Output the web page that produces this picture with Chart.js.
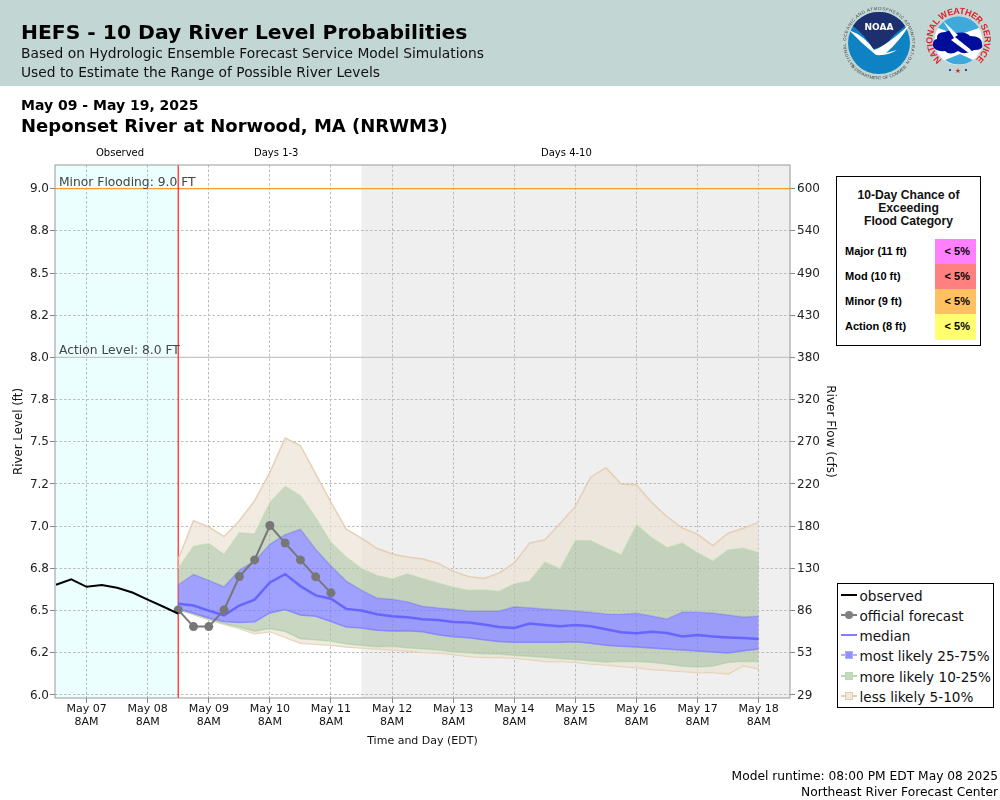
<!DOCTYPE html>
<html>
<head>
<meta charset="utf-8">
<title>HEFS - 10 Day River Level Probabilities</title>
<script src="https://cdn.jsdelivr.net/npm/chart.js@4/dist/chart.umd.min.js"></script>
<style>
  html, body { margin:0; padding:0; background:#fff; }
  body { width:1000px; height:800px; overflow:hidden; position:relative; font-family:"DejaVu Sans",sans-serif; color:#000; }
  #header { position:absolute; left:0; top:0; width:1000px; height:86px; background:#c2d6d4; }
  #chartCanvas { position:absolute; left:0; top:0; }
  .t { position:absolute; white-space:nowrap; line-height:1; }
  #floodBox { position:absolute; left:836px; top:176px; width:143px; height:168px; border:1.5px solid #000; background:#fff; font-family:"Liberation Sans",sans-serif; font-weight:bold; }
  #floodBox .head { position:absolute; left:0; width:100%; text-align:center; font-size:12.15px; line-height:13px; top:12px; color:#111; }
  #floodBox .lab { position:absolute; left:8px; font-size:11px; line-height:25px; }
  #floodBox .cell { position:absolute; left:98px; width:41px; height:25px; font-size:11px; line-height:25px; text-align:right; }
  #floodBox .cell span { margin-right:6px; }
  #legendBox { position:absolute; left:837px; top:583px; width:155px; height:123px; border:1.5px solid #000; background:#fff; }
  #legendBox .row { position:absolute; left:21.5px; font-size:13.6px; line-height:20px; color:#111; white-space:nowrap; }
  #legendBox .ln { position:absolute; left:3px; width:16px; height:2px; }
  #legendBox .sq { position:absolute; left:7px; width:8px; height:8px; }
  #legendBox .dot { position:absolute; left:7px; width:8px; height:8px; border-radius:50%; }
</style>
</head>
<body>
<div id="header"></div>
<canvas id="chartCanvas" width="1000" height="800"></canvas>

<div class="t" style="left:21px;top:22px;font-size:20.3px;font-weight:bold;">HEFS - 10 Day River Level Probabilities</div>
<div class="t" style="left:21px;top:47px;font-size:13.8px;color:#111;">Based on Hydrologic Ensemble Forecast Service Model Simulations</div>
<div class="t" style="left:21px;top:66px;font-size:13.8px;color:#111;">Used to Estimate the Range of Possible River Levels</div>
<div class="t" style="left:21px;top:98px;font-size:14px;font-weight:bold;">May 09 - May 19, 2025</div>
<div class="t" style="left:21px;top:117px;font-size:18px;font-weight:bold;">Neponset River at Norwood, MA (NRWM3)</div>

<div class="t" style="left:96px;top:148px;font-size:10px;">Observed</div>
<div class="t" style="left:254px;top:148px;font-size:10px;">Days 1-3</div>
<div class="t" style="left:541px;top:148px;font-size:10px;">Days 4-10</div>

<!-- logos, hand drawn approximations -->
<svg style="position:absolute;left:840px;top:0" width="160" height="86" viewBox="840 0 160 86">
  <defs>
    <path id="noaaRing" d="M 855.7 66.3 A 33 33 0 1 1 902.3 66.3"/>
    <path id="noaaRing2" d="M 851 66.4 A 36.5 36.5 0 0 0 907 66.4"/>
    <path id="nwsTop" d="M 941.8 59.9 A 26 26 0 1 1 975.2 59.9"/>
  </defs>
  <circle cx="879" cy="43" r="31" fill="#0f82c4"/>
  <path d="M 853 26 A 31 31 0 0 1 905 26 L 894 35 Q 884 48 873 49 Q 866 36 853 26 Z" fill="#1d2f6f"/>
  <path d="M 849 30 Q 865 36 874 50 Q 886 46 910 24 Q 899 42 886 53 L 897 50 Q 888 56 876 55 Q 862 44 849 30 Z" fill="#fff"/>
  <text x="879" y="30" font-size="9" font-weight="bold" fill="#fff" text-anchor="middle" font-family="DejaVu Sans">NOAA</text>
  <text font-size="4.4" fill="#444" font-family="Liberation Sans"><textPath href="#noaaRing" textLength="150">NATIONAL OCEANIC AND ATMOSPHERIC ADMINISTRATION</textPath></text>
  <text font-size="4.4" fill="#444" font-family="Liberation Sans" text-anchor="middle"><textPath href="#noaaRing2" startOffset="50%">U.S. DEPARTMENT OF COMMERCE</textPath></text>

  <circle cx="958.5" cy="41" r="24" fill="#fff"/>
  <path d="M 938 28 A 24 24 0 0 1 979 28 L 958 35 Z" fill="#3fa9dc"/>
  <path d="M 945 60 A 24 24 0 0 0 973 60 L 960 54 Z" fill="#3fa9dc"/>
  <path d="M 933 46 Q 932 40 937 39 Q 936 32 945 32 Q 950 29 956 33 Q 966 31 970 36 Q 982 36 982 44 Q 984 50 974 50 Q 965 56 958 51 Q 950 56 945 51 Q 935 52 933 46 Z" fill="#000c9c"/>
  <path d="M 943 21 L 958 35 L 955 37 L 970 49 L 978 59 L 966 51 L 951 40 L 954 38 Z" fill="#fff"/>
  <text font-size="9" font-weight="bold" fill="#e5202a" font-family="Liberation Sans"><textPath href="#nwsTop" textLength="126">NATIONAL WEATHER SERVICE</textPath></text>
  <text x="958" y="73" font-size="7" fill="#e5202a" text-anchor="middle" font-family="DejaVu Sans">&#9733;</text>
  <circle cx="950" cy="70" r="1" fill="#000c9c"/><circle cx="966" cy="70" r="1" fill="#000c9c"/>
</svg>

<div id="floodBox">
  <div class="head">10-Day Chance of<br>Exceeding<br>Flood Category</div>
  <div class="lab" style="top:62px">Major (11 ft)</div><div class="cell" style="top:62px;background:#ff80ff"><span>&lt; 5%</span></div>
  <div class="lab" style="top:87px">Mod (10 ft)</div><div class="cell" style="top:87px;background:#ff8080"><span>&lt; 5%</span></div>
  <div class="lab" style="top:112px">Minor (9 ft)</div><div class="cell" style="top:112px;background:#ffc060"><span>&lt; 5%</span></div>
  <div class="lab" style="top:137px">Action (8 ft)</div><div class="cell" style="top:137px;height:26px;background:#ffff70"><span>&lt; 5%</span></div>
</div>

<div id="legendBox">
  <div class="ln" style="top:10px;background:#000"></div><div class="row" style="top:2px">observed</div>
  <div class="ln" style="top:30px;background:#808080"></div><div class="dot" style="top:27px;background:#808080"></div><div class="row" style="top:22px">official forecast</div>
  <div class="ln" style="top:50px;background:#8080ff"></div><div class="row" style="top:42px">median</div>
  <div class="ln" style="top:70px;background:#b0b0ff"></div><div class="sq" style="top:67px;background:#9090ff;border:1px solid #b0b0ff;box-sizing:border-box"></div><div class="row" style="top:62px">most likely 25-75%</div>
  <div class="ln" style="top:91px;background:#b8dcae"></div><div class="sq" style="top:88px;background:#c8d6c2;border:1px solid #b8dcae;box-sizing:border-box"></div><div class="row" style="top:83px">more likely 10-25%</div>
  <div class="ln" style="top:111px;background:#e4ccb0"></div><div class="sq" style="top:108px;background:#f0e8de;border:1px solid #e4ccb0;box-sizing:border-box"></div><div class="row" style="top:103px">less likely 5-10%</div>
</div>

<div class="t" style="right:2px;top:770px;font-size:12.25px;">Model runtime: 08:00 PM EDT May 08 2025</div>
<div class="t" style="right:2px;top:786px;font-size:12.25px;">Northeast River Forecast Center</div>

<script>
// all x values are hours after May 07 8AM
const dayTicks = [0,24,48,72,96,120,144,168,192,216,240,264];
const dayLabels = ["May 07","May 08","May 09","May 10","May 11","May 12","May 13","May 14","May 15","May 16","May 17","May 18"];
const levelTicks = [6,6.25,6.5,6.75,7,7.25,7.5,7.75,8,8.25,8.5,8.75,9];
const levelLabels = ["6.0","6.2","6.5","6.8","7.0","7.2","7.5","7.8","8.0","8.2","8.5","8.8","9.0"];
const flowLabels = ["29","53","86","130","180","220","270","320","380","430","490","540","600"];

const observedHours = [-12,-6,0,6,12,18,24,30,36];
const observed = [6.653,6.685,6.641,6.651,6.635,6.607,6.565,6.524,6.482];

const officialHours = [36,42,48,54,60,66,72,78,84,90,96];
const official = [6.504,6.405,6.405,6.504,6.702,6.80,7.004,6.90,6.80,6.70,6.605];

const forecastHours = [36,42,48,54,60,66,72,78,84,90,96,102,108,114,120,126,132,138,144,150,156,162,168,174,180,186,192,198,204,210,216,222,228,234,240,246,252,258,264];
const median = [6.54,6.53,6.50,6.472,6.53,6.565,6.667,6.716,6.645,6.59,6.57,6.51,6.50,6.478,6.466,6.46,6.448,6.444,6.433,6.429,6.417,6.403,6.397,6.423,6.415,6.407,6.415,6.407,6.389,6.371,6.365,6.375,6.367,6.347,6.355,6.347,6.341,6.337,6.331];
const p95 = [6.804,7.032,6.996,6.938,7.032,7.151,7.319,7.522,7.478,7.31,7.141,6.982,6.929,6.869,6.835,6.817,6.806,6.78,6.732,6.702,6.69,6.722,6.782,6.90,6.919,7.016,7.117,7.29,7.347,7.25,7.244,7.141,7.056,6.99,6.952,6.885,6.958,6.988,7.024];
const p90 = [6.75,6.881,6.897,6.833,6.962,6.954,7.141,7.236,7.181,7.052,6.903,6.817,6.75,6.71,6.688,6.718,6.69,6.665,6.639,6.621,6.623,6.615,6.659,6.675,6.788,6.748,6.915,6.915,6.871,6.831,7.008,6.933,6.873,6.901,6.843,6.794,6.861,6.871,6.843];
const p75 = [6.653,6.714,6.679,6.641,6.74,6.794,6.893,6.95,6.982,6.863,6.764,6.675,6.621,6.575,6.567,6.552,6.526,6.516,6.508,6.498,6.498,6.498,6.522,6.516,6.51,6.504,6.498,6.49,6.48,6.478,6.484,6.468,6.45,6.492,6.49,6.486,6.474,6.462,6.466];
const p25 = [6.51,6.486,6.456,6.435,6.429,6.433,6.486,6.506,6.474,6.466,6.435,6.403,6.397,6.383,6.379,6.381,6.375,6.357,6.345,6.339,6.327,6.317,6.313,6.313,6.313,6.313,6.315,6.306,6.294,6.288,6.284,6.278,6.272,6.266,6.26,6.254,6.248,6.262,6.272];
const p10 = [6.506,6.48,6.45,6.423,6.403,6.377,6.393,6.377,6.333,6.327,6.319,6.304,6.294,6.286,6.288,6.28,6.274,6.268,6.256,6.25,6.244,6.242,6.236,6.23,6.224,6.216,6.21,6.202,6.196,6.2,6.198,6.194,6.183,6.171,6.165,6.171,6.194,6.2,6.198];
const p5 = [6.506,6.476,6.446,6.419,6.393,6.363,6.375,6.341,6.306,6.3,6.294,6.284,6.278,6.272,6.266,6.26,6.252,6.248,6.24,6.228,6.222,6.222,6.218,6.21,6.198,6.198,6.194,6.183,6.177,6.169,6.161,6.151,6.145,6.139,6.133,6.133,6.125,6.173,6.155];

const forecastStart = 36;
const day3End = 108;
const minorLevel = 9;
const actionLevel = 8;

function pts(xs, ys){
  return xs.map((x,i)=>({x:x, y:ys[i]}));
}

const TAN = "rgba(237,226,212,0.7)", TAN_LINE = "rgba(228,204,176,0.9)";
const GREEN = "rgba(176,196,168,0.7)", GREEN_LINE = "rgba(184,220,174,0.9)";
const BLUE = "rgba(119,119,255,0.7)", BLUE_LINE = "rgba(128,128,255,0.8)";

function band(label, ys, line, fillColor, nextIdx){
  return {
    label: label, data: pts(forecastHours, ys), order: 5,
    borderColor: line, borderWidth: 1.5, pointRadius: 0, tension: 0,
    backgroundColor: fillColor, fill: nextIdx === null ? false : {target: nextIdx}
  };
}

// shaded periods go under the grid
const shading = {
  id: "shading",
  beforeDraw(chart){
    const {ctx, chartArea:a, scales:{x}} = chart;
    ctx.save();
    ctx.fillStyle = "#ebffff";
    ctx.fillRect(a.left, a.top, x.getPixelForValue(forecastStart)-a.left, a.height);
    ctx.fillStyle = "#efefef";
    ctx.fillRect(x.getPixelForValue(day3End), a.top, a.right-x.getPixelForValue(day3End), a.height);
    ctx.restore();
  },
  beforeDatasetsDraw(chart){
    const {ctx, chartArea:a, scales:{x,y}} = chart;
    ctx.save();
    ctx.lineWidth = 1.2;
    ctx.strokeStyle = "#ff9a30";
    ctx.beginPath(); ctx.moveTo(a.left, y.getPixelForValue(minorLevel)); ctx.lineTo(a.right, y.getPixelForValue(minorLevel)); ctx.stroke();
    ctx.strokeStyle = "#c4c4c4";
    ctx.beginPath(); ctx.moveTo(a.left, y.getPixelForValue(actionLevel)); ctx.lineTo(a.right, y.getPixelForValue(actionLevel)); ctx.stroke();
    ctx.strokeStyle = "#ff2020";
    ctx.beginPath(); ctx.moveTo(x.getPixelForValue(forecastStart), a.top); ctx.lineTo(x.getPixelForValue(forecastStart), a.bottom); ctx.stroke();
    ctx.fillStyle = "#444";
    ctx.font = "12.3px 'DejaVu Sans'";
    ctx.textBaseline = "alphabetic";
    ctx.fillText("Minor Flooding: 9.0 FT", a.left+4, y.getPixelForValue(minorLevel)-3);
    ctx.fillText("Action Level: 8.0 FT", a.left+4, y.getPixelForValue(actionLevel)-3);
    ctx.restore();
  },
  afterDatasetsDraw(chart){
    const {ctx, chartArea:a} = chart;
    ctx.save();
    ctx.strokeStyle = "#999";
    ctx.lineWidth = 1;
    ctx.strokeRect(a.left, a.top, a.width, a.height);
    ctx.restore();
  }
};

new Chart(document.getElementById("chartCanvas").getContext("2d"), {
  type: "line",
  data: {
    datasets: [
      {label:"observed", data:pts(observedHours,observed), order:0, borderColor:"#000", borderWidth:2, pointRadius:0, tension:0, fill:false},
      {label:"official forecast", data:pts(officialHours,official), order:1, borderColor:"#777", backgroundColor:"#777", borderWidth:2, pointRadius:4.5, pointBorderWidth:0, tension:0, fill:false},
      {label:"median", data:pts(forecastHours,median), order:2, borderColor:"rgba(96,96,255,0.9)", borderWidth:2.5, pointRadius:0, tension:0, fill:false},
      band("p95", p95, TAN_LINE, TAN, 4),
      band("p90", p90, GREEN_LINE, GREEN, 5),
      band("p75", p75, BLUE_LINE, BLUE, 6),
      band("p25", p25, BLUE_LINE, GREEN, 7),
      band("p10", p10, GREEN_LINE, TAN, 8),
      band("p5", p5, TAN_LINE, TAN, null)
    ]
  },
  options: {
    responsive: false,
    animation: false,
    devicePixelRatio: 1,
    layout: { padding: {left:0, right:160, top:165, bottom:39} },
    plugins: { legend:{display:false}, tooltip:{enabled:false}, title:{display:false} },
    scales: {
      x: {
        type: "linear", min: -12.4, max: 276.3,
        afterBuildTicks(s){ s.ticks = dayTicks.map(v=>({value:v})); },
        afterFit(s){ s.height = 63; },
        ticks: {
          autoSkip:false, maxRotation:0, color:"#111", padding:0,
          font:{family:"DejaVu Sans", size:11, lineHeight:1.18},
          callback:(v)=>[dayLabels[dayTicks.indexOf(v)],"8AM"]
        },
        grid: {color:"#bbb", tickColor:"#888", tickLength:5},
        border: {display:false, dash:[2.5,2]},
        title: {display:true, text:"Time and Day (EDT)", color:"#111", font:{family:"DejaVu Sans", size:11}, padding:{top:6,bottom:13}}
      },
      y: {
        position: "left", min: 5.982, max: 9.14,
        afterBuildTicks(s){ s.ticks = levelTicks.map(v=>({value:v})); },
        afterFit(s){ s.width = 55; },
        ticks: {
          autoSkip:false, color:"#222", padding:1, labelOffset:0.5,
          font:{family:"DejaVu Sans", size:12},
          callback:(v)=>levelLabels[levelTicks.indexOf(v)]
        },
        grid: {color:"#bbb", tickColor:"#888", tickLength:5},
        border: {display:false, dash:[2.5,2]},
        title: {display:true, text:"River Level (ft)", color:"#111", font:{family:"DejaVu Sans", size:11.8}, padding:{top:12,bottom:0}}
      },
      y1: {
        position: "right", min: 5.982, max: 9.14,
        afterBuildTicks(s){ s.ticks = levelTicks.map(v=>({value:v})); },
        afterFit(s){ s.width = 50; },
        ticks: {
          autoSkip:false, color:"#222", padding:2, labelOffset:0.5,
          font:{family:"DejaVu Sans", size:12},
          callback:(v)=>flowLabels[levelTicks.indexOf(v)]
        },
        grid: {drawOnChartArea:false, tickColor:"#888", tickLength:5},
        border: {display:false},
        title: {display:true, text:"River Flow (cfs)", color:"#111", font:{family:"DejaVu Sans", size:12}, padding:{top:3,bottom:0}}
      }
    }
  },
  plugins: [shading]
});
</script>
</body>
</html>
